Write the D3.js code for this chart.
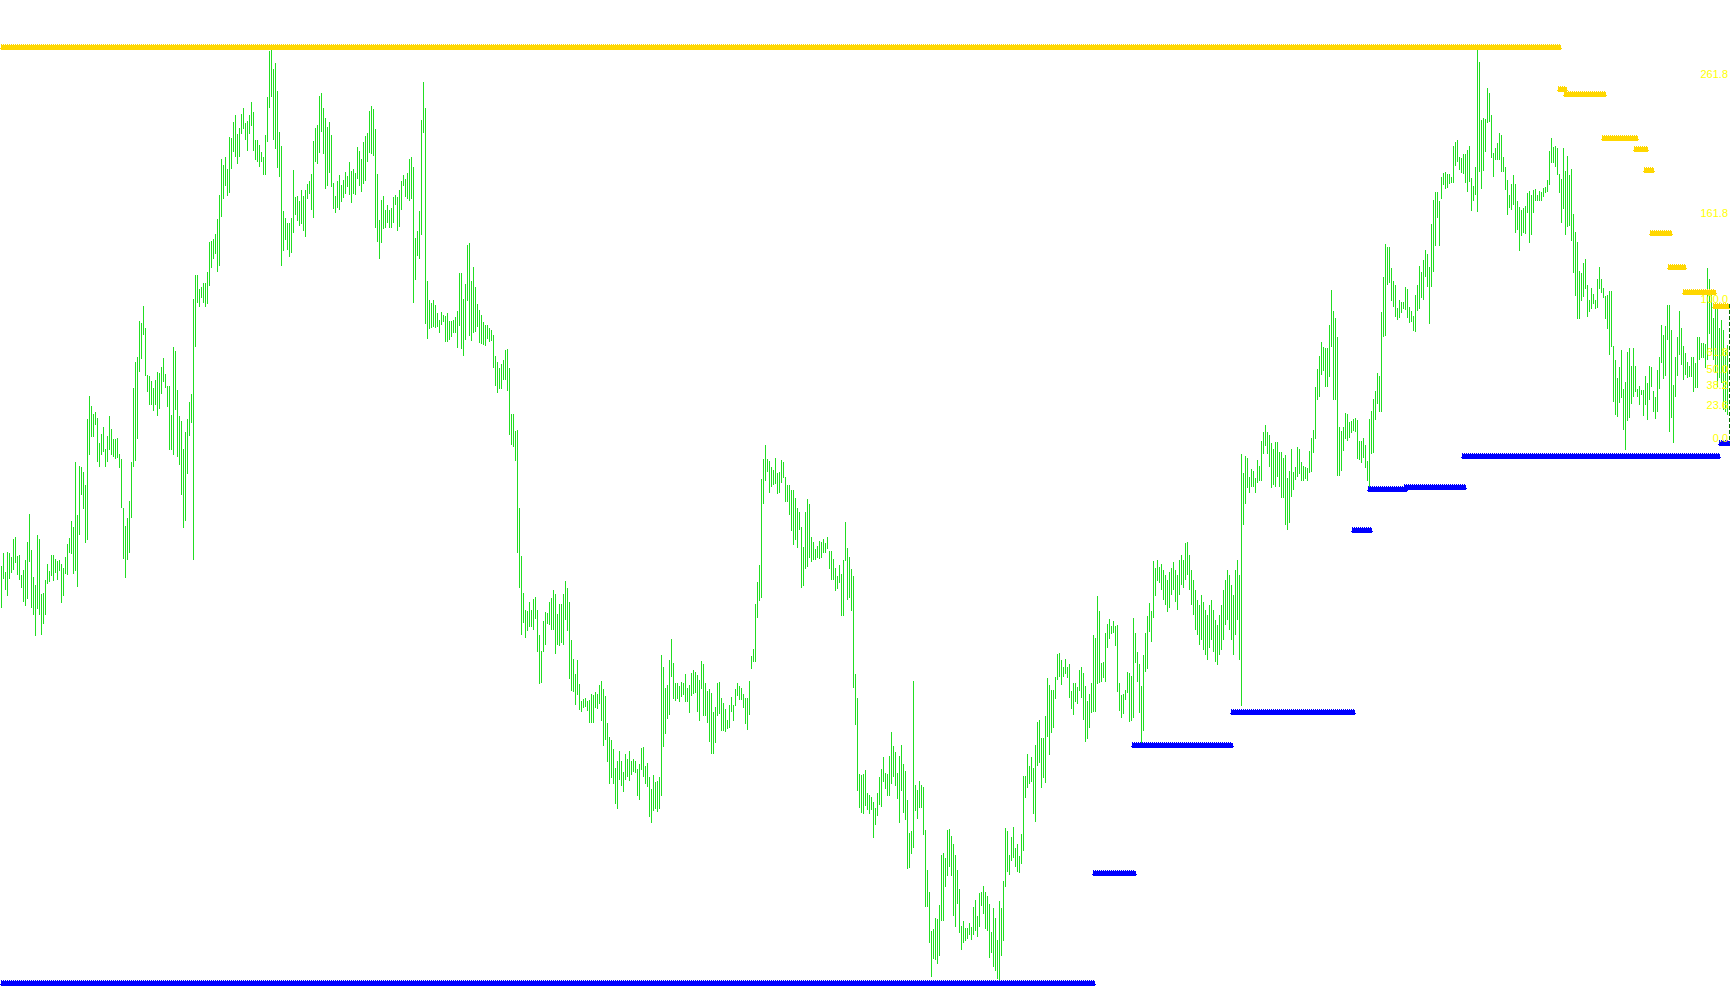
<!DOCTYPE html>
<html><head><meta charset="utf-8">
<script src="https://cdn.jsdelivr.net/npm/d3@7"></script>
<style>html,body{margin:0;padding:0;background:#fff;overflow:hidden}</style>
</head><body>
<svg id="chart" width="1730" height="1005"></svg>
<script>
// Bar highs / lows (price points), one entry per bar, oldest first
const barHigh = [
434,447,428,448,447,443,461,463,444,445, 425,430,440,458,486,450,423,415,465,461,
406,407,420,436,429,445,445,441,439,440, 436,432,443,456,462,479,473,538,485,534,
533,528,515,581,604,594,586,588,582,557, 566,573,551,564,584,571,561,561,562,546,
541,492,474,482,499,538,612,638,643,679, 677,694,672,625,624,619,612,620,628,627,
633,642,626,614,614,585,653,649,610,584, 579,551,568,581,598,606,701,725,725,711,
713,717,717,728,758,759,761,766,781,805, 841,835,843,831,863,862,878,885,866,872,
886,892,877,879,885,898,888,860,860,855, 848,843,865,903,949,950,931,937,909,868,
854,789,782,777,777,
782,830,803,804,799,810,804,810,816,819, 826,859,872,875,904,907,892,882,873,878,
865,817,804,819,825,815,820,828,824,838, 829,831,827,853,849,841,858,864,867,889,
894,891,871,826,780,800,804,790,795,790, 792,803,805,803,810,819,825,821,827,841,
843,833,762,769,789,880,918,892,719,700, 697,700,695,687,680,688,685,684,687,679,
679,680,683,689,727,727,701,716,755,757, 719,733,713,696,690,685,678,675,675,672,
670,665,644,638,632,636,640,650,651,632, 586,586,569,570,492,444,407,390,389,398,
390,401,403,390,365,349,379,388,387,398, 402,410,406,386,396,396,406,419,412,398,
360,341,326,340,316,
299,301,302,299,300,306,305,308,306,315, 319,311,304,277,263,260,251,232,239,249,
239,228,246,241,249,239,241,239,231,236, 252,253,234,237,223,211,225,218,219,223,
345,333,312,315,340,361,337,317,317,314, 318,317,326,312,315,327,330,328,325,320,
339,336,317,309,311,307,288,293,317,318, 302,297,291,280,295,303,295,311,317,314,
312,306,302,302,319,344,351,396,418,435, 521,541,555,541,539,533,530,542,527,528,
540,538,523,515,515,510,510,502,492,488, 473,453,488,501,496,463,458,451,454,459,
458,461,457,463,449,449,441,432,424,435, 426,440,478,452,443,431,424,326,302,226,
225,226,230,207,205,
203,198,192,207,223,231,243,227,226,244, 268,254,248,227,244,255,236,229,200,167,
169,319,215,210,219,215,213,170,130,108, 69,71,82,81,95,145,147,142,170,171,
164,156,145,130,111,74,79,72,72,77, 73,93,100,84,107,108,114,108,104,96,
68,92,82,60,99,92,119,172,169,145, 163,173,152,156,144,166,224,224,246,234,
243,232,255,278,280,262,262,284,322,315, 310,310,323,346,347,340,333,341,333,336,
309,317,317,313,330,333,327,314,299,306, 317,365,362,404,389,337,338,367,376,381,
374,379,374,375,317,305,306,310,328,327, 324,382,367,348,336,314,345,367,384,397,
389,439,432,440,433,
436,430,425,420,428,432,438,430,425,440, 445,440,457,458,445,430,420,410,400,395,
405,398,390,385,395,400,390,380,375,385, 395,410,420,430,425,415,405,430,440,425,
546,527,544,542,523,531,529,522,540,534, 559,568,575,568,565,557,551,558,558,548,
548,542,545,522,529,551,528,533,553,551, 538,534,533,532,549,562,570,613,631,644,
658,653,652,652,675,710,689,682,663,573, 569,573,587,586,578,579,581,582,580,559,
559,562,555,539,581,589,601,609,627,624, 688,723,756,753,753,732,719,715,692,700,
698,698,713,711,693,689,684,705,715,734, 728,740,750,746,733,776,800,808,808,799,
823,827,828,826,826,823,854,858,860,843, 842,846,846,850,854,822,814,833,950,938,
880,882,881,912,907,885,847,852,857,867, 865,843,833,820,805,816,825,816,799,793,
790,792,794,807,809,805,810,811,805,809, 808,812,813,820,849,862,853,854,852,826,
821,852,829,844,825,831,786,768,758,729, 727,737,741,715,700,712,706,700,721,733,
721,712,704,705,709,709,654,640,622,633, 650,611,618,648,652,634,652,634,611,614,
610,610,624,617,634,633,609,603,630,643, 675,665,674,695,695,670,615,643,663,689,
672,654,647,638,634,643,643,637,663,663, 657,657,656,732,721,706,682,692,693,672,
680,670,650,655
];
const barLow = [
392,421,410,404,421,427,430,437,425,420, 412,398,394,401,438,392,385,364,391,385,
365,376,385,416,418,424,419,427,420,429, 397,404,426,425,447,446,426,429,413,465,
505,491,457,460,545,563,563,575,538,533, 545,548,533,538,550,545,543,541,542,532,
492,441,422,440,447,482,533,539,561,628, 641,665,624,608,595,595,589,595,584,591,
606,618,612,593,550,550,545,590,543,535, 505,472,479,526,564,577,440,653,697,693,
702,697,693,696,714,732,741,746,728,734, 783,801,814,804,807,831,848,843,836,843,
866,871,860,849,866,874,849,840,838,833, 838,825,825,858,892,903,860,851,832,823,
734,749,760,750,743,
747,767,785,779,774,776,769,763,801,806, 790,782,838,836,847,868,846,811,814,827,
813,791,787,792,790,798,802,806,813,805, 797,806,805,821,814,808,816,819,838,847,
846,844,772,758,741,757,771,772,777,772, 772,777,795,769,773,790,814,803,801,799,
801,697,720,744,741,765,867,676,661,671, 672,673,672,673,667,675,678,658,658,660,
663,667,667,652,674,651,644,660,699,664, 659,667,668,673,657,656,655,654,661,658,
659,632,614,607,611,611,620,620,609,565, 555,553,539,447,412,365,377,362,369,373,
373,370,381,348,316,317,348,355,376,375, 370,370,346,355,354,357,355,380,369,321,
309,308,295,305,290,
288,292,293,289,277,277,277,292,291,296, 279,254,260,238,216,222,216,196,191,220,
214,208,220,223,219,225,228,227,204,200, 230,223,216,213,183,177,189,191,188,191,
204,253,266,281,285,323,301,299,301,298, 303,305,298,298,287,304,306,307,288,279,
311,284,284,277,258,246,246,257,284,286, 269,269,268,271,272,288,279,294,304,300,
300,292,276,270,285,331,338,338,382,399, 402,496,519,528,507,513,515,516,506,507,
517,522,498,498,485,469,455,460,452,470, 412,414,431,433,442,438,440,440,442,441,
442,447,447,451,431,420,420,409,411,417, 384,384,439,400,402,389,312,275,209,192,
187,186,194,190,186,
190,162,175,184,195,193,218,211,204,204, 216,223,214,201,177,209,187,180,131,132,
146,152,189,181,192,192,165,93,93,57, 23,41,40,36,44,79,79,113,124,133,
124,84,73,96,67,50,57,59,61,65, 60,65,69,63,73,94,86,71,69,42,
47,33,29,21,20,44,59,113,128,125, 139,142,133,128,127,136,149,202,212,216,
218,186,178,234,237,212,222,217,263,245, 267,272,301,320,323,315,323,326,322,302,
291,285,298,296,309,302,280,258,261,272, 287,288,288,316,317,318,322,318,352,361,
366,367,354,308,289,282,286,300,307,278, 279,282,337,318,287,257,269,328,331,368,
358,382,404,419,417,
410,400,395,388,392,405,410,398,390,405, 415,412,420,425,410,395,385,370,365,355,
360,350,345,340,352,360,348,338,335,345, 350,360,375,380,370,360,345,365,380,340,
294,475,496,512,507,513,513,507,517,519, 519,546,554,546,533,512,515,513,523,513,
502,502,475,470,477,503,510,520,523,526, 519,519,521,519,527,528,547,561,600,603,
625,629,613,613,623,653,600,600,524,524, 529,549,561,559,562,567,569,568,541,540,
537,542,532,519,512,546,547,580,596,588, 588,663,664,715,717,699,693,683,680,682,
687,691,690,682,677,678,669,668,689,691, 702,700,723,713,676,713,728,754,782,754,
801,815,811,812,816,817,817,834,838,830, 827,826,817,808,818,789,799,805,788,828,
811,829,848,877,878,842,823,840,840,840, 828,828,810,785,792,790,795,767,770,749,
764,767,766,787,757,765,787,799,799,799, 799,803,807,808,815,837,837,833,825,807,
777,791,765,773,774,759,727,704,681,681, 699,703,711,683,688,691,696,691,692,711,
707,702,681,671,645,653,598,585,583,597, 602,570,550,579,582,596,603,608,603,595,
605,584,595,580,600,613,588,581,588,611, 637,621,624,660,568,582,557,603,624,645,
635,620,625,622,623,623,608,612,612,640, 642,642,632,640,666,648,640,627,613,622,
617,590,588,585
];

// Resistance (yellow) segments: bar index start, end, price
const resistanceFrom  = [-1, 777.75, 780.75, 799.75, 815.75, 820.75, 823.9, 832.9, 840.1, 855.1];
const resistanceTo    = [780.25, 783.25, 802.75, 818.75, 823.75, 826.75, 835.6, 842.6, 857.6, 864.5];
const resistancePrice = [953, 911, 906.5, 861.5, 851.5, 830.5, 767.5, 732.5, 708.5, 694.5];

// Support (blue) segments
const supportFrom  = [-1, 545.1, 564.75, 614.25, 674.75, 682.6, 700.9, 729.75, 858.1];
const supportTo    = [547.25, 567.6, 616.25, 677.25, 685.6, 703.4, 732.6, 859.75, 864.5];
const supportPrice = [16.7, 127.5, 255, 288, 470.5, 510.7, 512.7, 544.3, 556.7];

// Fibonacci retracement
const fibLow = 557, fibHigh = 696;
const fibLevels = [0, 23.6, 38.2, 50, 61.8, 100, 161.8, 261.8];
const fibLabels = ["0.0", "23.6", "38.2", "50.0", "61.8", "100.0", "161.8", "261.8"];

const W = 1730, H = 1005;
const svg = d3.select("#chart");
svg.append("rect").attr("width", W).attr("height", H).attr("fill", "#fff");

const x = d3.scaleLinear().domain([0, barHigh.length - 1]).range([1.5, 1727.5]);
const y = d3.scaleLinear().domain([-5, 1000]).range([H, 0]);

const bars = barHigh.map((h, i) => ({i, h, l: barLow[i]}));
svg.append("g").attr("shape-rendering", "crispEdges")
  .selectAll("rect").data(bars).join("rect")
  .attr("x", d => x(d.i) - 0.5)
  .attr("width", 1)
  .attr("y", d => y(d.h))
  .attr("height", d => Math.max(1, y(d.l) - y(d.h)))
  .attr("fill", "#22dd22");

function drawLevels(from, to, price, color) {
  const g = svg.append("g").attr("shape-rendering", "crispEdges");
  const segs = price.map((p, k) => ({x1: x(from[k]), x2: x(to[k]), yc: Math.round(y(p))}));
  g.selectAll("rect.body").data(segs).join("rect").attr("class", "body")
    .attr("x", d => d.x1 + 1).attr("width", d => d.x2 - d.x1 - 2)
    .attr("y", d => d.yc - 2).attr("height", 5).attr("fill", color);
  g.selectAll("line.dot").data(segs).join("line").attr("class", "dot")
    .attr("x1", d => d.x1 + 1).attr("x2", d => d.x2 - 2)
    .attr("y1", d => d.yc - 2.5).attr("y2", d => d.yc - 2.5)
    .attr("stroke", color).attr("stroke-width", 1).attr("stroke-dasharray", "1,1");
  g.selectAll("line.tab").data(segs).join("line").attr("class", "tab")
    .attr("x1", d => d.x1).attr("x2", d => d.x2)
    .attr("y1", d => d.yc + 1.5).attr("y2", d => d.yc + 1.5)
    .attr("stroke", color).attr("stroke-width", 1);
}
drawLevels(resistanceFrom, resistanceTo, resistancePrice, "#ffd700");
drawLevels(supportFrom, supportTo, supportPrice, "#0000ff");

// Fibonacci: dashed trend line + labels
const fibPrice = lv => fibLow + (fibHigh - fibLow) * lv / 100;
const fx = x(barHigh.length - 1) + 2;
svg.append("line")
  .attr("x1", fx).attr("x2", fx)
  .attr("y1", y(fibHigh)).attr("y2", y(fibLow))
  .attr("stroke", "#007000").attr("stroke-width", 1).attr("stroke-dasharray", "4,2");
svg.append("g").selectAll("text").data(fibLevels).join("text")
  .attr("x", 1728)
  .attr("y", lv => y(fibPrice(lv)) - 1)
  .attr("text-anchor", "end")
  .attr("font-family", "'Liberation Sans', Arial, sans-serif")
  .attr("font-size", 11)
  .attr("fill", "#ffff00")
  .text((lv, k) => fibLabels[k]);
</script>
</body></html>
